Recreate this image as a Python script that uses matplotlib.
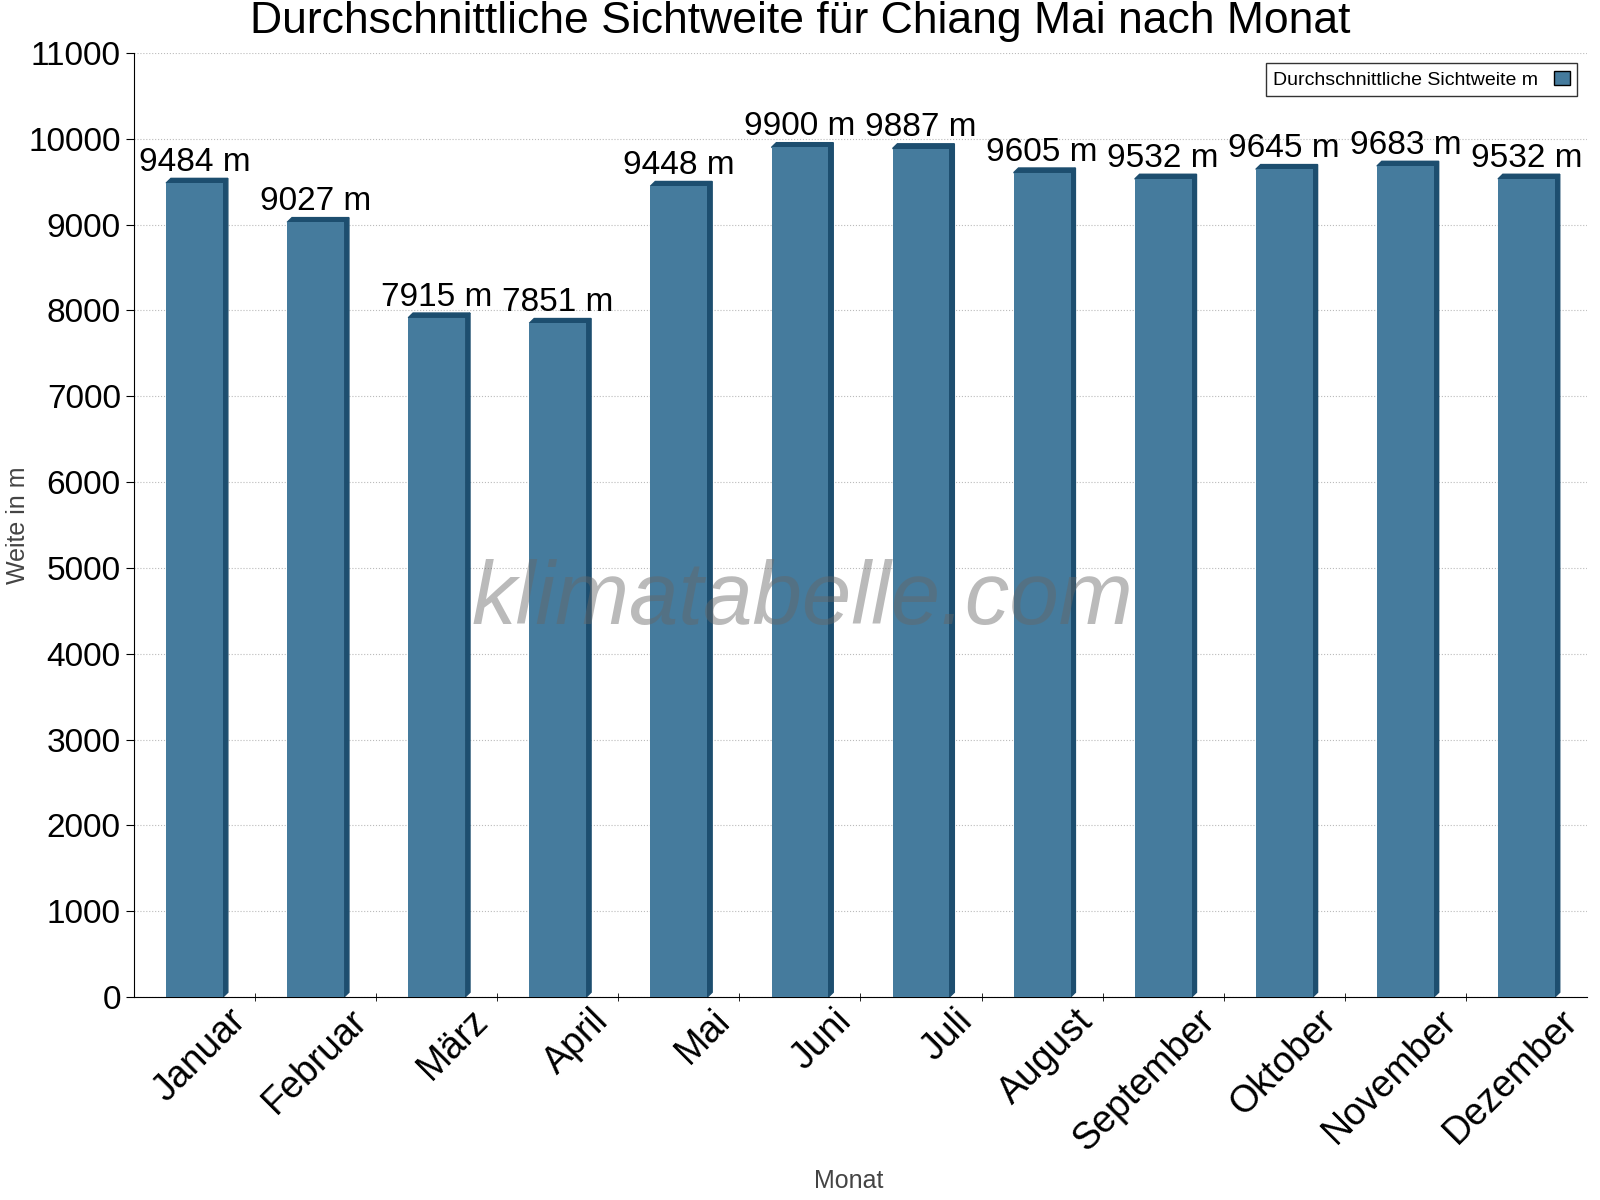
import numpy as np
import matplotlib.pyplot as plt
import matplotlib.transforms as mtransforms
from matplotlib.patches import Polygon

plt.rcParams["font.family"] = "Liberation Sans"

months = ["Januar", "Februar", "März", "April", "Mai", "Juni", "Juli",
          "August", "September", "Oktober", "November", "Dezember"]
values = [9484, 9027, 7915, 7851, 9448, 9900, 9887, 9605, 9532, 9645, 9683, 9532]

fig = plt.figure(figsize=(16, 12), dpi=100)
ax = fig.add_axes([134 / 1600, 1 - 997 / 1200, 1453 / 1600, 944 / 1200])

x = np.arange(len(months))
w = 0.47
face = "#457b9d"
dark = "#1d4e6f"
dx = 0.04
dy = 55
for xi, v in zip(x, values):
    ax.add_patch(Polygon([(xi + w / 2, 0), (xi + w / 2 + dx, dy), (xi + w / 2 + dx, v + dy), (xi + w / 2, v)],
                         closed=True, color=dark, zorder=2))
    ax.add_patch(Polygon([(xi - w / 2, v), (xi - w / 2 + dx, v + dy), (xi + w / 2 + dx, v + dy), (xi + w / 2, v)],
                         closed=True, color=dark, zorder=2))
ax.bar(x, values, width=w, color=face, zorder=3, label="Durchschnittliche Sichtweite m")
for xi, v in zip(x, values):
    ax.text(xi, v + 60, f"{v} m", ha="center", va="bottom", fontsize=24, zorder=4)

ax.set_xlim(-0.5, 11.5)
ax.set_ylim(0, 11000)
ax.set_yticks(range(0, 11001, 1000))
ax.tick_params(axis="y", labelsize=24, direction="out", length=6)
ax.set_xticks(x)
ax.set_xticklabels(months, rotation=45, ha="right", rotation_mode="anchor", fontsize=27)
ax.tick_params(axis="x", length=0, pad=4)
shift = mtransforms.ScaledTranslation(0.33, 0, fig.dpi_scale_trans)
for lab in ax.get_xticklabels():
    lab.set_transform(lab.get_transform() + shift)
ax.set_xticks(np.arange(0.5, 11.5, 1), minor=True)
ax.tick_params(axis="x", which="minor", length=6, direction="inout")
ax.grid(axis="y", linestyle=":", color="#bbbbbb", zorder=0)
for s in ["top", "right"]:
    ax.spines[s].set_visible(False)

fig.text(0.5, 1 - 22 / 1200, "Durchschnittliche Sichtweite für Chiang Mai nach Monat",
         fontsize=32, ha="center", va="center")
ax.set_ylabel("Weite in m", fontsize=18, color="#444444")
ax.yaxis.set_label_coords(-104 / 1453, 0.5)
ax.set_xlabel("Monat", fontsize=18, color="#444444")
ax.xaxis.set_label_coords(0.492, -172 / 944)
ax.text(0.46, 0.42, "klimatabelle.com", transform=ax.transAxes, fontsize=64,
        color="#666666", alpha=0.45, style="italic", fontweight="light",
        ha="center", va="center", zorder=5)

leg = ax.legend(loc="upper right", fontsize=14, markerfirst=False, fancybox=False,
                edgecolor="black", handlelength=0.8, handleheight=0.8)
leg.get_frame().set_linewidth(1)
leg.legend_handles[0].set_edgecolor("black")

fig.savefig("out.png", dpi=100)
